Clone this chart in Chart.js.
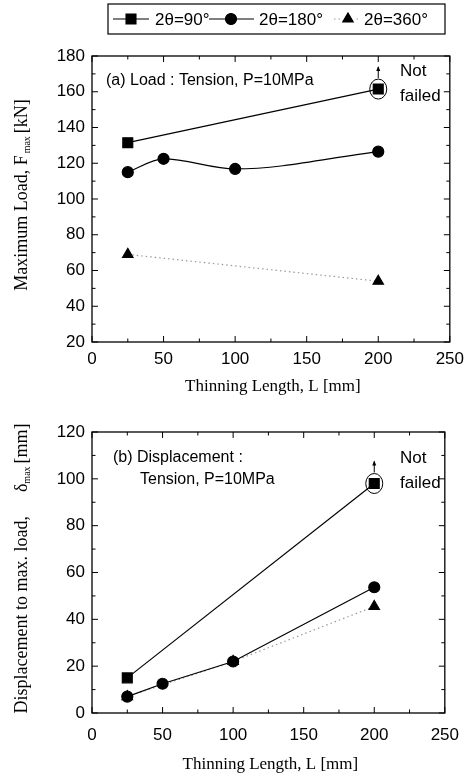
<!DOCTYPE html>
<html>
<head>
<meta charset="utf-8">
<script src="https://cdn.jsdelivr.net/npm/chart.js@4.4.1/dist/chart.umd.min.js"></script>
<style>
  body { margin: 0; background: #fff; width: 471px; height: 776px; overflow: hidden; position: relative; }
  canvas { position: absolute; left: 0; }
  #loadChart { top: 0; }
  #dispChart { top: 400px; }
</style>
</head>
<body>
<canvas id="loadChart" width="471" height="400"></canvas>
<canvas id="dispChart" width="471" height="376"></canvas>
<script>
// Series names
const seriesNames = ["2\u03b8=90\u00b0", "2\u03b8=180\u00b0", "2\u03b8=360\u00b0"];

// (a) maximum load [kN] vs thinning length [mm]
const loadL90 = [25, 200];
const loadF90 = [131.5, 161.5];
const loadL180 = [25, 50, 100, 200];
const loadF180 = [115, 122.5, 116.8, 126.5];
const loadL360 = [25, 200];
const loadF360 = [69, 54];

// (b) displacement to max. load [mm] vs thinning length [mm]
const dispL90 = [25, 200];
const dispD90 = [15, 98];
const dispL180 = [25, 50, 100, 200];
const dispD180 = [7, 12.5, 22, 53.7];
const dispL360 = [25, 100, 200];
const dispD360 = [7, 22, 45.5];

const SANS = "'Liberation Sans', Arial, sans-serif";
const SERIF = "'Liberation Serif', 'Times New Roman', serif";

function pts(xs, ys) {
  return xs.map((x, i) => ({ x: x, y: ys[i] }));
}

function makeSets(l90, v90, l180, v180, l360, v360, smooth) {
  return [
    { label: seriesNames[0], data: pts(l90, v90), borderColor: "#000", borderWidth: 1.2,
      pointStyle: "rect", pointRadius: 7, pointBackgroundColor: "#000", pointBorderColor: "#000", tension: 0 },
    { label: seriesNames[1], data: pts(l180, v180), borderColor: "#000", borderWidth: 1.2,
      pointStyle: "circle", pointRadius: 5.5, pointBackgroundColor: "#000", pointBorderColor: "#000",
      cubicInterpolationMode: smooth ? "monotone" : "default", tension: 0 },
    { label: seriesNames[2], data: pts(l360, v360), borderColor: "#9a9a9a", borderWidth: 1.2, borderDash: [1.5, 3],
      pointStyle: "triangle", pointRadius: 6, pointBackgroundColor: "#000", pointBorderColor: "#000", tension: 0 }
  ];
}

// draw rotated y title, parts = [{t, sub, gap}]
function drawYTitle(ctx, cx, cy, parts) {
  ctx.save();
  ctx.translate(cx, cy);
  ctx.rotate(-Math.PI / 2);
  ctx.fillStyle = "#000";
  ctx.textAlign = "left";
  ctx.textBaseline = "alphabetic";
  let total = 0;
  parts.forEach(p => {
    ctx.font = (p.sub ? "10px " : "18px ") + SERIF;
    p.w = ctx.measureText(p.t).width + (p.gap || 0);
    total += p.w;
  });
  let x = -total / 2;
  parts.forEach(p => {
    ctx.font = (p.sub ? "10px " : "18px ") + SERIF;
    ctx.fillText(p.t, x, p.sub ? 9 : 6);
    x += p.w;
  });
  ctx.restore();
}

function notFailed(chart, value, lx, ly) {
  const { ctx, scales: { x, y } } = chart;
  const px = x.getPixelForValue(value.x), py = y.getPixelForValue(value.y);
  ctx.save();
  ctx.strokeStyle = "#000";
  ctx.lineWidth = 1;
  ctx.beginPath();
  ctx.ellipse(px, py, 8.5, 10, 0, 0, Math.PI * 2);
  ctx.stroke();
  ctx.beginPath();
  ctx.moveTo(px, py - 11);
  ctx.lineTo(px, py - 22);
  ctx.stroke();
  ctx.beginPath();
  ctx.moveTo(px - 2, py - 18);
  ctx.lineTo(px, py - 23);
  ctx.lineTo(px + 2, py - 18);
  ctx.closePath();
  ctx.fillStyle = "#000";
  ctx.fill();
  ctx.font = "17px " + SANS;
  ctx.textBaseline = "middle";
  ctx.textAlign = "left";
  ctx.fillText("Not", lx, ly);
  ctx.fillText("failed", lx, ly + 25);
  ctx.restore();
}

const framePlugin = {
  id: "frame",
  afterDraw(chart, args, opts) {
    const { ctx, chartArea: a, scales: { x, y } } = chart;
    ctx.save();
    ctx.strokeStyle = "#000";
    ctx.lineWidth = 1.3;
    ctx.strokeRect(a.left, a.top, a.right - a.left, a.bottom - a.top);
    ctx.lineWidth = 1;
    ctx.beginPath();
    for (let v = x.min; v <= x.max; v += 25) {
      const px = x.getPixelForValue(v);
      const len = v % 50 === 0 ? 6 : 3.5;
      ctx.moveTo(px, a.bottom); ctx.lineTo(px, a.bottom - len);
      ctx.moveTo(px, a.top); ctx.lineTo(px, a.top + len);
    }
    for (let v = y.min; v <= y.max; v += 10) {
      const py = y.getPixelForValue(v);
      const len = v % 20 === 0 ? 6 : 3.5;
      ctx.moveTo(a.left, py); ctx.lineTo(a.left + len, py);
      ctx.moveTo(a.right, py); ctx.lineTo(a.right - len, py);
    }
    ctx.stroke();

    // x title
    ctx.fillStyle = "#000";
    ctx.font = "17px " + SERIF;
    ctx.textAlign = "center";
    ctx.textBaseline = "middle";
    ctx.fillText("Thinning Length, L [mm]", (a.left + a.right) / 2 + 2, opts.xTitleY);

    // y title
    drawYTitle(ctx, 21, (a.top + a.bottom) / 2 - 4, opts.yTitle);

    // panel note
    ctx.font = "16px " + SANS;
    ctx.textAlign = "left";
    ctx.textBaseline = "middle";
    opts.note.forEach(n => ctx.fillText(n.t, n.x, n.y));
    ctx.restore();

    const sq = chart.data.datasets[0].data;
    notFailed(chart, sq[sq.length - 1], 400, opts.nfY);

    if (opts.legend) drawLegend(chart);
  }
};

function drawLegend(chart) {
  const ctx = chart.ctx;
  const ds = chart.data.datasets;
  const cy = 19;
  ctx.save();
  ctx.strokeStyle = "#000";
  ctx.lineWidth = 1.2;
  ctx.strokeRect(108, 4, 337, 30);
  const items = [
    { x0: 113, x1: 149, m: 131, tx: 155 },
    { x0: 209, x1: 254, m: 231, tx: 259 },
    { x0: 334, x1: 360, m: 348, tx: 364 }
  ];
  items.forEach((it, i) => {
    const d = ds[i];
    ctx.save();
    ctx.strokeStyle = d.borderColor;
    ctx.lineWidth = d.borderWidth;
    ctx.setLineDash(d.borderDash || []);
    ctx.beginPath();
    ctx.moveTo(it.x0, cy);
    ctx.lineTo(it.x1, cy);
    ctx.stroke();
    ctx.restore();
    ctx.fillStyle = "#fff";
    if (i === 2) ctx.fillRect(it.m - 8, cy - 8, 16, 16);
    ctx.fillStyle = "#000";
    Chart.helpers.drawPoint(ctx, { pointStyle: d.pointStyle, radius: d.pointRadius, borderWidth: 1, rotation: 0 }, it.m, cy);
    ctx.fill();
    ctx.font = "17px " + SANS;
    ctx.textAlign = "left";
    ctx.textBaseline = "middle";
    ctx.fillText(d.label, it.tx, cy + 1);
  });
  ctx.restore();
}

function makeChart(id, datasets, yMin, yMax, pad, xAxisH, xPad, opts) {
  return new Chart(document.getElementById(id), {
    type: "line",
    data: { datasets: datasets },
    options: {
      responsive: false,
      animation: false,
      devicePixelRatio: 1,
      layout: { padding: pad },
      plugins: { legend: { display: false }, tooltip: { enabled: false }, frame: opts },
      scales: {
        x: {
          type: "linear", min: 0, max: 250,
          ticks: { stepSize: 50, color: "#000", padding: xPad, font: { family: SANS, size: 17 } },
          grid: { display: false, drawTicks: false },
          border: { display: false },
          afterFit: s => { s.height = xAxisH; }
        },
        y: {
          min: yMin, max: yMax,
          ticks: { stepSize: 20, color: "#000", padding: 7, font: { family: SANS, size: 17 } },
          grid: { display: false, drawTicks: false },
          border: { display: false },
          afterFit: s => { s.width = 92; }
        }
      }
    },
    plugins: [framePlugin]
  });
}

makeChart("loadChart",
  makeSets(loadL90, loadF90, loadL180, loadF180, loadL360, loadF360, true),
  20, 180, { left: 0, top: 56, right: 16, bottom: 0 }, 58, 7,
  {
    legend: true,
    xTitleY: 387,
    nfY: 71,
    yTitle: [{ t: "Maximum Load, F", gap: 2 }, { t: "max", sub: true, gap: 3 }, { t: "[kN]" }],
    note: [{ t: "(a) Load : Tension, P=10MPa", x: 106, y: 81 }]
  });

makeChart("dispChart",
  makeSets(dispL90, dispD90, dispL180, dispD180, dispL360, dispD360, false),
  0, 120, { left: 0, top: 32, right: 15, bottom: 0 }, 63, 12,
  {
    legend: false,
    xTitleY: 365,
    nfY: 58,
    yTitle: [{ t: "Displacement to max. load,", gap: 24 }, { t: "\u03b4" }, { t: "max", sub: true, gap: 3 }, { t: "[mm]" }],
    note: [{ t: "(b) Displacement :", x: 113, y: 58 }, { t: "Tension, P=10MPa", x: 140, y: 80 }]
  });
</script>
</body>
</html>
